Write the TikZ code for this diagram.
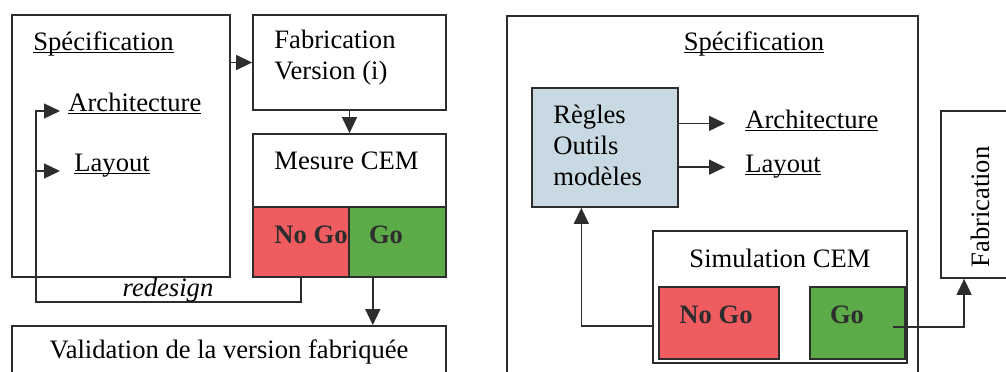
\documentclass[tikz,border=0pt]{standalone}
\usepackage{fontspec}
\setmainfont{Liberation Serif}
\usetikzlibrary{arrows.meta,calc}

\definecolor{nogored}{RGB}{238,92,96}
\definecolor{gogreen}{RGB}{93,170,72}
\definecolor{regleblue}{RGB}{201,217,227}
\definecolor{linegray}{RGB}{45,45,45}

\newcommand{\undl}[1]{\setbox0\hbox{#1}\rlap{\rule[-1.6pt]{\wd0}{0.55pt}}\box0}

\begin{document}
\begin{tikzpicture}[x=0.5pt,y=-0.5pt,
            box/.style={draw=linegray,line width=0.9pt,inner sep=0},
            txt/.style={inner sep=0,font=\fontsize{13.3}{15.5}\selectfont},
            bold/.style={txt,font=\fontsize{13.3}{15.5}\selectfont\bfseries,text=linegray},
            arr/.style={draw=linegray,line width=0.7pt,-{Triangle[length=8pt,width=7.5pt]}}]
            \useasboundingbox (0,0) rectangle (1006,371);
            \clip (0,0) rectangle (1006,371);

            \node[box,minimum width=109pt,minimum height=131pt] (specL) at (121,146) {};
            \node[txt,anchor=base west] (specLt) at (33,50) {\undl{Spécification}};
            \node[txt,anchor=base west] (archL) at (68,111) {\undl{Architecture}};
            \node[txt,anchor=base west] (layoutL) at (74,171) {\undl{Layout}};

            \node[box,minimum width=96.5pt,minimum height=47.5pt] (fabL) at (349.5,62.5) {};
            \node[txt,anchor=west,align=left] (fabLt) at (274,58) {Fabrication\\Version (i)};

            \node[box,minimum width=96.5pt,minimum height=71.5pt] (mesL) at (349.5,205.5) {};
            \node[txt,anchor=west] (mesLt) at (274,161) {Mesure CEM};
            \node[box,fill=nogored,minimum width=48pt,minimum height=35pt] (nogoL) at (301,242) {};
            \node[box,fill=gogreen,minimum width=48.5pt,minimum height=35pt] (goL) at (397.5,242) {};
            \node[bold] (nogoLt) at (311,235) {No Go};
            \node[bold] (goLt) at (386,235) {Go};

            \node[box,minimum width=217pt,minimum height=40pt] (valL) at (229,366) {};
            \node[txt] (valLt) at (229,352) {Validation de la version fabriquée};

            \coordinate (loopL) at (36,302);
            \coordinate (goLout) at ($(goL.south west)!0.25!(goL.south east)$);
            \draw[arr] (specL.east |- fabL.west) -- (fabL.west);
            \draw[arr] (fabL.south) -- (mesL.north);
            \draw[arr] (goLout) -- (goLout |- valL.north);
            \draw[arr,shorten >=4pt] (nogoL.south) |- (loopL) |- (archL.base west);
            \draw[arr,shorten >=7pt] (loopL |- layoutL.base) -- (layoutL.base west);
            \node[txt,font=\fontsize{13.3}{15.5}\selectfont\itshape] (redesign) at (168,290) {redesign};

            \node[box,minimum width=205.5pt,minimum height=192pt] (specR) at (712.5,208) {};
            \node[txt,anchor=base] (specRt) at (754,50) {\undl{Spécification}};

            \node[box,fill=regleblue,minimum width=73pt,minimum height=59.5pt] (regR) at (605,147.5) {};
            \node[txt,anchor=west,align=left] (regRt) at (553,145) {Règles\\Outils\\modèles};
            \node[txt,anchor=base west] (archR) at (745,128) {\undl{Architecture}};
            \node[txt,anchor=base west] (layoutR) at (745,172) {\undl{Layout}};
            \draw[arr,shorten >=10pt] ($(regR.east |- archR.west)+(0,3)$) -- ($(archR.west)+(0,3)$);
            \draw[arr,shorten >=10pt] ($(regR.east |- layoutR.west)+(0,1)$) -- ($(layoutR.west)+(0,1)$);

            \node[box,minimum width=127pt,minimum height=66pt] (simR) at (780,297) {};
            \node[txt] (simRt) at (780,258) {Simulation CEM};
            \node[box,fill=nogored,minimum width=60pt,minimum height=36pt] (nogoR) at (719,323) {};
            \node[box,fill=gogreen,minimum width=47.5pt,minimum height=36pt] (goR) at (857.5,323) {};
            \node[bold] (nogoRt) at (716,315) {No Go};
            \node[bold] (goRt) at (847,315) {Go};

            \node[box,minimum width=44.5pt,minimum height=83.5pt] (fabR) at (985.5,194.5) {};
            \node[txt,rotate=90] (fabRt) at (980,207) {Fabrication};

            \draw[arr] ($(nogoR.west)+(-6,3)$) -| ($(regR.south west)!0.34!(regR.south east)$);
            \draw[arr] ($(goR.east)+(-13,4)$) -| ($(fabR.south west)+(24,0)$);
          \end{tikzpicture}
\end{document}
